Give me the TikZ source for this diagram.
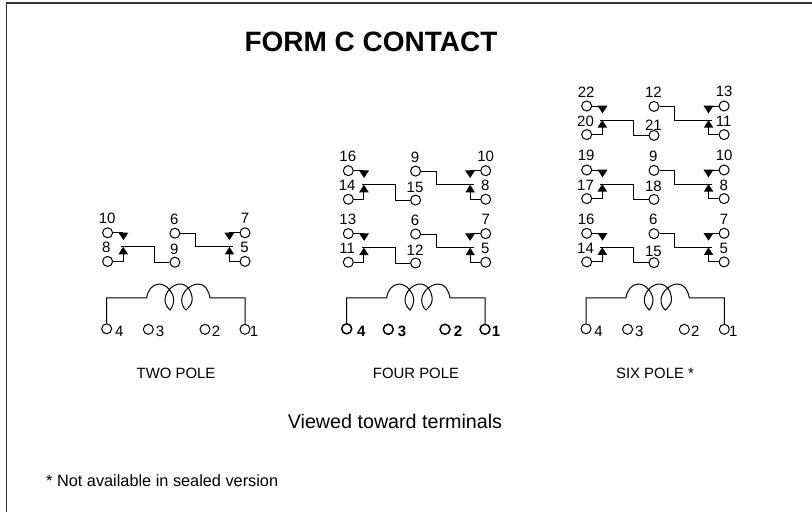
\documentclass[tikz,border=0pt]{standalone}
\usepackage{fontspec}
\setmainfont{Liberation Sans}
\tikzset{
  x=1pt,y=-1pt,
  terminal/.style={circle,draw=black,fill=white,line width=#1,minimum size=10pt,inner sep=0pt},
  terminal/.default=1pt,
  wire/.style={draw=black,line width=1pt,line join=miter},
  num/.style={font=\fontsize{15}{15}\selectfont,inner sep=0pt,text=black},
  captext/.style={font=\fontsize{14.9}{15}\selectfont,inner sep=0pt,text=black},
}
\newcommand{\bmoff}{16.8}
% contact group: #1 prefix, #2 x of upper left terminal, #3 y, labels #4..#9 (TL,BL,TM,BM,TR,BR)
\newcommand{\contactgroup}[9]{%
  \begin{scope}[shift={(#2,#3)}]
    \node[terminal] (#1tl) at (0,0) {};
    \node[terminal] (#1bl) at (0,28.6) {};
    \node[terminal] (#1tm) at (67.3,0.4) {};
    \node[terminal] (#1bm) at (67.3,29.4) {};
    \node[terminal] (#1tr) at (137.4,0) {};
    \node[terminal] (#1br) at (137.4,28.6) {};
    \node[num] (#1ltl) at (-0.5,-14.2) {#4};
    \node[num] (#1lbl) at (-1.2,15) {#5};
    \node[num] (#1ltm) at (66.7,-13.6) {#6};
    \node[num] (#1lbm) at (66.7,\bmoff) {#7};
    \node[num] (#1ltr) at (137.4,-14.4) {#8};
    \node[num] (#1lbr) at (137,15) {#9};
    \coordinate (#1dl) at (15.8,0);
    \coordinate (#1ul) at (15.6,21.4);
    \coordinate (#1dr) at (121.8,0);
    \coordinate (#1ur) at (121.8,21.4);
    \coordinate (#1bla) at (13.6,14);
    \coordinate (#1blb) at (46.8,14);
    \coordinate (#1blc) at (46.8,29.4);
    \coordinate (#1bra) at (87.8,0.4);
    \coordinate (#1brb) at (87.8,14);
    \coordinate (#1brc) at (125.2,14);
    \fill[black] (10.8,-0.3) -- (20.8,-0.3) -- (15.8,7.3) -- cycle;
    \fill[black] (10.8,21.6) -- (20.4,21.6) -- (15.6,14) -- cycle;
    \fill[black] (116.8,-0.3) -- (126.8,-0.3) -- (121.8,7.3) -- cycle;
    \fill[black] (117.2,21.6) -- (126.6,21.6) -- (121.8,14) -- cycle;
    \draw[wire] (#1tl) -- (#1dl);
    \draw[wire] (#1bl) -| (#1ul);
    \draw[wire] (#1bla) -- (#1blb) -- (#1blc) -- (#1bm);
    \draw[wire] (#1tm) -- (#1bra) -- (#1brb) -- (#1brc);
    \draw[wire] (#1tr) -- (#1dr);
    \draw[wire] (#1br) -| (#1ur);
  \end{scope}%
}
% coil: #1 prefix, #2 x of terminal 4, #3 terminal line width, #4 label weight
\newcommand{\coilgroup}[4]{%
  \begin{scope}[shift={(#2,0)}]
    \node[terminal=#3] (#1t4) at (0,328.8) {};
    \node[terminal=#3] (#1t3) at (41.6,329.3) {};
    \node[terminal=#3] (#1t2) at (98.3,329.3) {};
    \node[terminal=#3] (#1t1) at (138.3,329.3) {};
    \node[num] (#1l4) at (12.6,331) {#4 4};
    \node[num] (#1l3) at (53.3,331) {#4 3};
    \node[num] (#1l2) at (109.3,331) {#4 2};
    \node[num] (#1l1) at (147.3,331) {#4 1};
    \coordinate (#1a) at (0,297.9);
    \coordinate (#1b) at (40,297.9);
    \coordinate (#1c) at (103.3,297.9);
    \coordinate (#1d) at (138.3,297.9);
    \draw[wire] (#1t4) -- (#1a) -- (#1b)
      .. controls (41,290) and (46,284) .. (52.5,284)
      .. controls (60,284) and (67,293) .. (67,300)
      .. controls (67,304) and (65,308) .. (63.3,310)
      .. controls (60,307) and (58.3,303.5) .. (58.3,300)
      .. controls (58.3,292) and (66,284) .. (73.3,284)
      .. controls (81,284) and (85.5,292) .. (85.5,300)
      .. controls (85.5,304) and (81.5,308) .. (79.3,310)
      .. controls (76.5,308) and (75,304) .. (75,300)
      .. controls (75,292) and (84,284) .. (91.6,284)
      .. controls (98,284) and (102,290) .. (#1c)
      -- (#1d) -- (#1t1);
  \end{scope}%
}
\begin{document}
\begin{tikzpicture}
  \useasboundingbox (0,0) rectangle (812,512);
  \draw[black!80,line width=1.3pt] (6.5,512) -- (6.5,3) -- (812,3);
  \node[font=\bfseries\fontsize{28}{28}\selectfont,inner sep=0pt] (title) at (371,42) {FORM C CONTACT};

  \contactgroup{a}{107.6}{232.8}{10}{8}{6}{9}{7}{5}
  \coilgroup{ac}{106.7}{1pt}{}

  \contactgroup{b}{348.3}{170.7}{16}{14}{9}{15}{10}{8}
  \contactgroup{c}{348.3}{233.6}{13}{11}{6}{12}{7}{5}
  \coilgroup{bc}{346.7}{1.5pt}{\bfseries}

  \renewcommand{\bmoff}{19}
  \contactgroup{d}{586.7}{106}{22}{20}{12}{21}{13}{11}
  \renewcommand{\bmoff}{16.8}
  \contactgroup{e}{586.7}{170}{19}{17}{9}{18}{10}{8}
  \renewcommand{\bmoff}{17.7}
  \contactgroup{f}{586.7}{233.3}{16}{14}{6}{15}{7}{5}
  \coilgroup{fc}{586}{1pt}{}

  \node[captext] (twop) at (176,373) {TWO POLE};
  \node[captext] (fourp) at (416,373) {FOUR POLE};
  \node[captext] (sixp) at (655,373) {SIX POLE *};
  \node[font=\fontsize{19.7}{20}\selectfont,inner sep=0pt] (viewed) at (395,421) {Viewed toward terminals};
  \node[font=\fontsize{16.3}{17}\selectfont,inner sep=0pt,anchor=west] (note) at (46,481) {* Not available in sealed version};
\end{tikzpicture}
\end{document}
